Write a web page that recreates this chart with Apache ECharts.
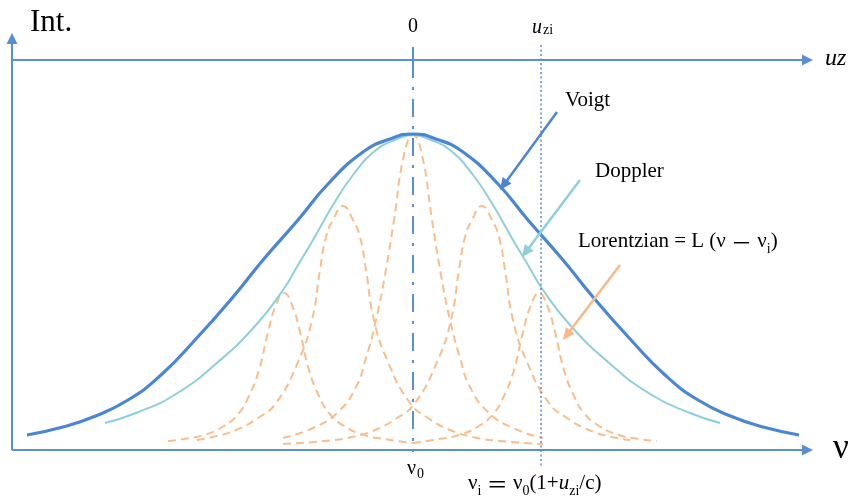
<!DOCTYPE html>
<html><head><meta charset="utf-8">
<script src="https://cdn.jsdelivr.net/npm/echarts@6/dist/echarts.min.js"></script>
<style>html,body{margin:0;padding:0;background:#fff}#c{width:851px;height:501px}</style>
</head><body><div id="c"></div>
<script>
// x: frequency offset from nu0 (arbitrary units), y: intensity (arbitrary units)
const voigt = [[-386,15],[-350,23],[-320,33],[-285,50],[-252,75],[-218,110],[-180,153],[-150,190],[-115,230],[-85,266],[-50,298],[-23,311],[0,316],[23,311],[50,298],[85,266],[115,230],[150,190],[180,153],[218,110],[252,75],[285,50],[320,33],[350,23],[386,15]];
const doppler = [[-308,27],[-277,37],[-237,56],[-195,88],[-157,125],[-130,160],[-115,185],[-100,210],[-80,245],[-60,275],[-37,300],[-18,310],[0,315],[18,310],[37,300],[60,275],[80,245],[100,210],[115,185],[130,160],[157,125],[195,88],[237,56],[277,37],[307,27]];
const lorLeftSmall = [[-245,9],[-229,11],[-209,15],[-189,24],[-174,37],[-164,54],[-154,80],[-145,118],[-137,145],[-129,157],[-121,145],[-113,118],[-104,80],[-94,54],[-84,37],[-69,24],[-49,15],[-29,11],[1,7]];
const lorLeftMedium = [[-216,10],[-200,13],[-177,20],[-155,32],[-137,47],[-115,88],[-101,130],[-93,180],[-87,213],[-80,230],[-70,244],[-60,230],[-53,213],[-47,180],[-39,130],[-25,88],[-3,47],[15,32],[37,20],[60,13],[87,9],[130,6]];
const lorCenter = [[-130,12],[-100,22],[-75,38],[-57,63],[-47,92],[-37,130],[-28,175],[-19,230],[-9,295],[0,315],[9,295],[19,230],[28,175],[37,130],[47,92],[57,63],[75,38],[100,22],[130,12]];
const lorRightMedium = [[-130,6],[-88,9],[-61,13],[-38,20],[-16,32],[2,47],[24,88],[38,130],[46,180],[52,213],[59,230],[69,244],[79,230],[86,213],[92,180],[100,130],[114,88],[136,47],[154,32],[176,20],[199,13],[217,10]];
const lorRightSmall = [[0,7],[26,11],[46,15],[66,24],[81,37],[91,54],[101,80],[110,118],[118,145],[126,157],[134,145],[142,118],[151,80],[161,54],[171,37],[186,24],[206,15],[226,11],[244,9]];
// reference lines
const nu0 = 0;
const uzi = 128;
const axisXRange = [-401, 400];
const axisTop = 417;
const uzAxisLevel = 390;
// annotation arrows [start, tip]
const arrowVoigt = [[144,338],[87,260]];
const arrowDoppler = [[167,270],[109,193]];
const arrowLorentz = [[207,185],[150,110]];

const C_VOIGT = '#4A86D4', C_DOP = '#8ECFDC', C_LOR = '#F8BE8E', C_AXIS = '#5A8FD8';
const SERIF = '"Liberation Serif","Times New Roman",serif';
const CJK = '"Noto Sans CJK SC",sans-serif';

const chart = echarts.init(document.getElementById('c'), null, {renderer:'canvas'});

function seg(a, b, color, width, type, arrow, size) {
  let end = b;
  if (arrow) {
    const dx = b[0]-a[0], dy = b[1]-a[1], L = Math.hypot(dx, dy);
    const h = size[1] / 2;
    end = [b[0] - dx / L * h, b[1] - dy / L * h];
  }
  return [
    {coord: a, symbol: 'none', lineStyle: {color, width, type}},
    {coord: end, symbol: arrow ? 'triangle' : 'none', symbolSize: size || 0, itemStyle:{color}}
  ];
}
const axisArrow = [11, 11];
const annArrow = [11, 12];

function lorSeries(d) {
  return {type:'line', data:d, smooth:0.5, symbol:'none', z:2,
    lineStyle:{color:C_LOR, width:2, type:[8,5]}};
}

const subFont = 14, mainFont = 21;
const rich = {
  m: {fontFamily: SERIF, fontSize: mainFont, lineHeight: mainFont, padding:[0,0,4,0], verticalAlign:'bottom', fill:'#000'},
  mi: {fontFamily: SERIF, fontSize: mainFont, fontStyle:'italic', lineHeight: mainFont, padding:[0,0,4,0], verticalAlign:'bottom', fill:'#000'},
  s: {fontFamily: SERIF, fontSize: subFont, lineHeight: subFont, verticalAlign:'bottom', fill:'#000'},
  c: {fontFamily: CJK, fontSize: mainFont, lineHeight: mainFont, padding:[0,0,4,0], verticalAlign:'bottom', fill:'#000'}
};
function mid(baseline, size) { return baseline - 0.3375 * size; }
function txt(x, baseline, size, text, extra) {
  return {type:'text', x, y: mid(baseline, size), silent:true,
    style: Object.assign({text, font: size + 'px ' + SERIF, fill:'#000', align:'left', verticalAlign:'middle'}, extra || {})};
}
function richTxt(x, baseline, text) {
  return {type:'text', x, y: baseline - 17.6, silent:true,
    style:{text, rich, align:'left', verticalAlign:'top', fontFamily: SERIF, fontSize: mainFont}};
}

chart.setOption({
  animation:false,
  grid:{left:12, right:36, top:25, bottom:21},
  xAxis:{type:'value', min:-401, max:402, show:false},
  yAxis:{type:'value', min:-30, max:425, show:false},
  series:[
    lorSeries(lorLeftSmall), lorSeries(lorLeftMedium), lorSeries(lorCenter),
    lorSeries(lorRightMedium), lorSeries(lorRightSmall),
    {type:'line', data:doppler, smooth:0.5, symbol:'none', z:3, lineStyle:{color:C_DOP, width:2}},
    {type:'line', data:voigt, smooth:0.5, symbol:'none', z:4, lineStyle:{color:C_VOIGT, width:3.2}},
    {type:'line', data:[], z:5,
      markLine:{silent:true, symbol:['none','none'], label:{show:false}, animation:false,
        data:[
          seg([axisXRange[0],0],[axisXRange[1],0], C_AXIS, 2, 'solid', true, axisArrow),
          seg([axisXRange[0],0],[axisXRange[0],axisTop], C_AXIS, 2, 'solid', true, axisArrow),
          seg([axisXRange[0],uzAxisLevel],[axisXRange[1],uzAxisLevel], C_AXIS, 2, 'solid', true, axisArrow),
          seg([nu0,uzAxisLevel],[nu0,uzAxisLevel+13], C_AXIS, 2, 'solid', false),
          seg([nu0,uzAxisLevel],[nu0,-2], C_AXIS, 2, [18,9,3,9], false),
          seg([uzi,405],[uzi,-18], C_AXIS, 1.5, [2,2.5], false),
          seg(arrowVoigt[0], arrowVoigt[1], C_VOIGT, 2.5, 'solid', true, annArrow),
          seg(arrowDoppler[0], arrowDoppler[1], C_DOP, 2.5, 'solid', true, annArrow),
          seg(arrowLorentz[0], arrowLorentz[1], '#F8B98A', 2.5, 'solid', true, annArrow)
        ]}}
  ],
  graphic:[
    txt(30, 33, 31, 'Int.'),
    txt(413, 33, 20, '0', {align:'center'}),
    txt(532, 34, 20, 'u', {font:'italic 20px ' + SERIF}),
    txt(543, 35, 14, 'zi'),
    txt(825, 67, 24, 'uz', {font:'italic 24px ' + SERIF}),
    txt(833, 461, 35, 'ν'),
    txt(407, 475, 20, 'ν'),
    txt(417, 479, 14, '0'),
    txt(565, 108, 21, 'Voigt'),
    txt(595, 179, 21, 'Doppler'),
    richTxt(578, 253, '{m|Lorentzian = L (ν }{c|－}{m| ν}{s|i}{m|)}'),
    richTxt(468, 495, '{m|ν}{s|i}{m| }{c|＝}{m| ν}{s|0}{m|(1+}{mi|u}{s|zi}{m|/c)}')
  ]
});
</script></body></html>
